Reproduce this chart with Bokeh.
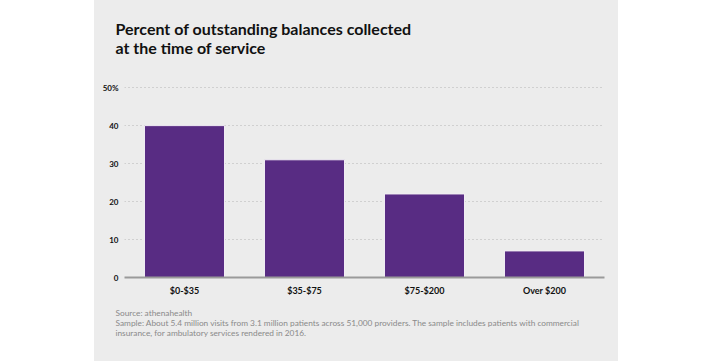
from bokeh.plotting import figure
from bokeh.models import FactorRange, Range1d, FixedTicker, Title, Spacer
from bokeh.layouts import row, column
from bokeh.embed import file_html
from bokeh.resources import INLINE

categories = ["$0-$35", "$35-$75", "$75-$200", "Over $200"]
values = [40, 31, 22, 7]
y_ticks = [0, 10, 20, 30, 40, 50]
y_tick_labels = {50: "50%"}
title_lines = ["Percent of outstanding balances collected", "at the time of service"]
note_lines = [
    "Source: athenahealth",
    "Sample: About 5.4 million visits from 3.1 million patients across 51,000 providers. The sample includes patients with commercial",
    "insurance, for ambulatory services rendered in 2016.",
]

BG = "#ececec"

# header figure holding the two-line title
head = figure(width=524, height=80, x_axis_type=None, y_axis_type=None,
              output_backend="svg", toolbar_location=None,
              min_border_left=0, min_border_right=0, min_border_top=0, min_border_bottom=0)
head.background_fill_color = BG
head.border_fill_color = BG
head.outline_line_color = None
head.add_layout(Title(text="\n".join(title_lines), align="left", offset=-9,
                      vertical_align="top",
                      text_font="Lato", text_font_style="bold", text_font_size="16px",
                      text_color="#111111", standoff=36), "above")

p = figure(
    x_range=FactorRange(*categories, range_padding=0),
    y_range=Range1d(0, 50.3),
    width=524, height=281,
    output_backend="svg", toolbar_location=None,
    min_border_left=30, min_border_right=14, min_border_top=6, min_border_bottom=84,
)
p.background_fill_color = BG
p.border_fill_color = BG
p.outline_line_color = None

p.vbar(x=categories, top=values, width=0.667, fill_color="#582c83",
       line_color="#f2eef5", line_width=1)

p.xgrid.grid_line_color = None
p.ygrid.ticker = FixedTicker(ticks=y_ticks)
p.ygrid.grid_line_color = "#b5b5b5"
p.ygrid.grid_line_dash = "1 3"
p.ygrid.grid_line_width = 1

p.yaxis.ticker = FixedTicker(ticks=y_ticks)
p.yaxis.major_label_overrides = y_tick_labels
p.yaxis.axis_line_color = None
p.yaxis.major_tick_line_color = None
p.yaxis.minor_tick_line_color = None
p.yaxis.major_label_text_font = "Lato"
p.yaxis.major_label_text_font_style = "bold"
p.yaxis.major_label_text_font_size = "8px"
p.yaxis.major_label_text_color = "#111111"
p.yaxis.major_label_standoff = 0

p.xaxis.axis_line_color = "#9a9a9a"
p.xaxis.axis_line_width = 2
p.xaxis.major_tick_line_color = None
p.xaxis.minor_tick_line_color = None
p.xaxis.major_label_text_font = "Lato"
p.xaxis.major_label_text_font_style = "bold"
p.xaxis.major_label_text_font_size = "9px"
p.xaxis.major_label_text_color = "#111111"
p.xaxis.major_label_standoff = 1

p.add_layout(Title(text="\n".join(note_lines), align="left", offset=-9,
                   text_font="Lato", text_font_style="normal", text_font_size="8.3px",
                   text_color="#8a8a8a", text_line_height=1.03, standoff=14), "below")

col = column(head, p, spacing=0, styles={"background-color": BG})
layout = row(Spacer(width=94, height=361), col)
open("out.html", "w").write(file_html(layout, INLINE))
